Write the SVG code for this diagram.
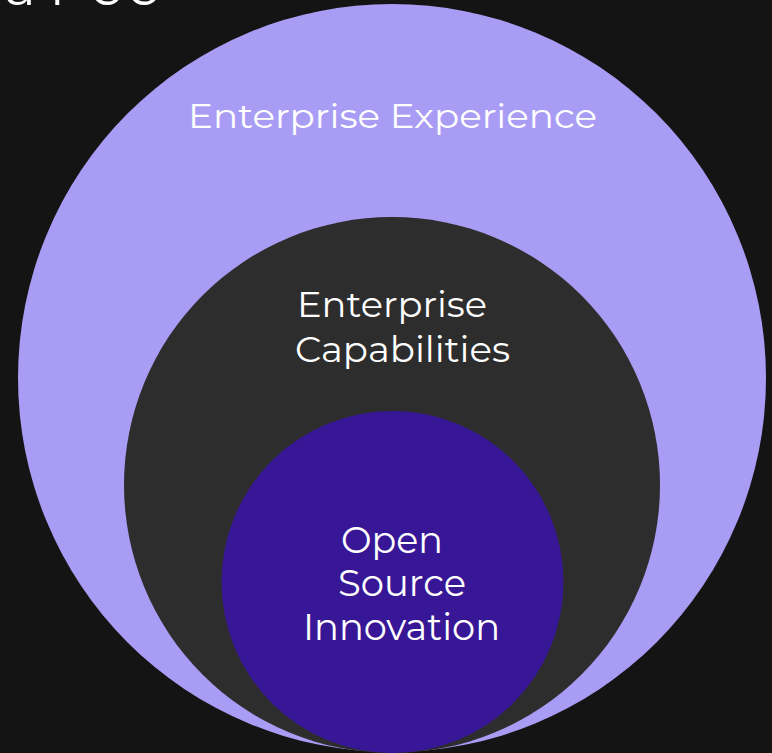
<svg xmlns="http://www.w3.org/2000/svg" width="772" height="753" viewBox="0 0 772 753">
<style>
.t{font-family:"Montserrat","Lato","Open Sans","Noto Sans",sans-serif;fill:#ffffff;font-weight:400}
</style>
<rect width="772" height="753" fill="#141414"/>
<text class="t" x="4 50 90 127" y="5" font-size="54">aree</text>
<g id="outer">
<circle cx="392" cy="378" r="374" fill="#a99cf4"/>
<text class="t" x="188" y="128" font-size="34" textLength="409" lengthAdjust="spacingAndGlyphs">Enterprise Experience</text>
</g>
<g id="middle">
<circle cx="392" cy="485" r="268" fill="#2d2d2d"/>
<text class="t" x="297" y="317" font-size="35" textLength="190" lengthAdjust="spacingAndGlyphs">Enterprise</text>
<text class="t" x="295" y="362" font-size="35" textLength="215" lengthAdjust="spacingAndGlyphs">Capabilities</text>
</g>
<g id="inner">
<circle cx="392.5" cy="582" r="171" fill="#381797"/>
<text class="t" x="341" y="553" font-size="37" textLength="102" lengthAdjust="spacingAndGlyphs">Open</text>
<text class="t" x="338" y="596" font-size="37" textLength="128" lengthAdjust="spacingAndGlyphs">Source</text>
<text class="t" x="303" y="640" font-size="37" textLength="197" lengthAdjust="spacingAndGlyphs">Innovation</text>
</g>
<g id="connectors"/>
</svg>
